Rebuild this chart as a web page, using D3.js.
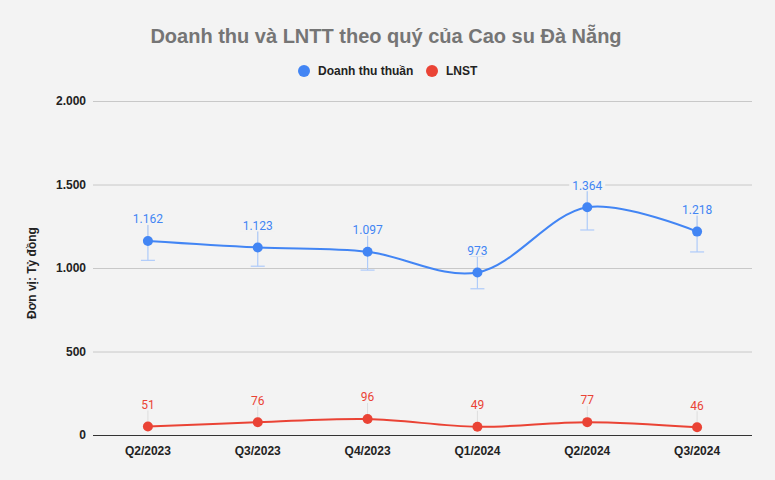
<!DOCTYPE html>
<html>
<head>
<meta charset="utf-8">
<script src="https://cdn.jsdelivr.net/npm/d3@7"></script>
<style>
  body { margin: 0; background: #f3f3f3; }
  text { font-family: "Liberation Sans", Arial, sans-serif; }
</style>
</head>
<body>
<div id="chart"></div>
<script>
const quarters = ["Q2/2023", "Q3/2023", "Q4/2023", "Q1/2024", "Q2/2024", "Q3/2024"]
const revenue = [1162, 1123, 1097, 973, 1364, 1218]
const profit = [51, 76, 96, 49, 77, 46]
const yTicks = [0, 500, 1000, 1500, 2000]

const W = 775, H = 480
const M = { left: 93, right: 23, top: 101, bottom: 45 }

const svg = d3.select("#chart").append("svg")
    .attr("width", W)
    .attr("height", H)

svg.append("rect")
    .attr("width", W)
    .attr("height", H)
    .attr("fill", "#f3f3f3")

const x = d3.scaleBand()
    .domain(quarters)
    .range([M.left, W - M.right])

const y = d3.scaleLinear()
    .domain([0, 2000])
    .range([H - M.bottom, M.top])

const fmt = v => d3.format(",")(v).replace(/,/g, ".")
const cx = q => x(q) + x.bandwidth() / 2

// title
svg.append("text")
    .attr("x", 386)
    .attr("y", 43)
    .attr("text-anchor", "middle")
    .attr("fill", "#757575")
    .style("font-size", "20px")
    .style("font-weight", "bold")
    .text("Doanh thu và LNTT theo quý của Cao su Đà Nẵng")

// legend
const legend = [
    { name: "Doanh thu thuần", color: "#4285f4", x: 304 },
    { name: "LNST", color: "#ea4335", x: 432 }
]
legend.forEach(d => {
    svg.append("circle")
        .attr("cx", d.x)
        .attr("cy", 71)
        .attr("r", 6)
        .attr("fill", d.color)
    svg.append("text")
        .attr("x", d.x + 14)
        .attr("y", 75)
        .attr("fill", "#222")
        .style("font-size", "12px")
        .style("font-weight", "bold")
        .text(d.name)
})

// grid
const yAxis = svg.append("g")
    .attr("transform", `translate(${M.left},0)`)
    .call(d3.axisLeft(y).tickValues(yTicks).tickSize(-(W - M.left - M.right)).tickFormat(fmt))
yAxis.select(".domain").remove()
yAxis.selectAll(".tick line")
    .attr("stroke", d => d === 0 ? "#333" : "#c8c8c8")
yAxis.selectAll(".tick text")
    .attr("x", -7)
    .attr("fill", "#222")
    .style("font-size", "12px")
    .style("font-weight", "bold")
    .style("font-family", "Liberation Sans, Arial, sans-serif")

svg.append("text")
    .attr("transform", `translate(36,${(M.top + H - M.bottom) / 2 + 5}) rotate(-90)`)
    .attr("text-anchor", "middle")
    .attr("fill", "#222")
    .style("font-size", "12px")
    .style("font-weight", "bold")
    .text("Đơn vị: Tỷ đồng")

// x axis labels
const xAxis = svg.append("g")
    .attr("transform", `translate(0,${H - M.bottom})`)
    .call(d3.axisBottom(x).tickSize(0).tickPadding(11))
xAxis.select(".domain").remove()
xAxis.selectAll(".tick text")
    .attr("fill", "#222")
    .style("font-size", "12px")
    .style("font-weight", "bold")
    .style("font-family", "Liberation Sans, Arial, sans-serif")

const line = d3.line()
    .x((d, i) => cx(quarters[i]))
    .y(d => y(d))
    .curve(d3.curveCatmullRom.alpha(0.5))

function drawSeries(values, color, whiskerColor, withErr) {
    const g = svg.append("g")

    // leader lines up to labels
    g.selectAll(".lead")
        .data(values)
        .join("line")
        .attr("x1", (d, i) => cx(quarters[i]))
        .attr("x2", (d, i) => cx(quarters[i]))
        .attr("y1", d => y(d))
        .attr("y2", d => y(d) - 17)
        .attr("stroke", "#ddd")
        .attr("stroke-width", 1)

    if (withErr) {
        values.forEach((d, i) => {
            const px = cx(quarters[i])
            const lo = y(d * 0.9), hi = y(d * 1.1)
            g.append("line")
                .attr("x1", px).attr("x2", px)
                .attr("y1", lo).attr("y2", hi)
                .attr("stroke", whiskerColor)
                .attr("stroke-width", 1.2)
            ;[lo, hi].forEach(yy => {
                g.append("line")
                    .attr("x1", px - 7).attr("x2", px + 7)
                    .attr("y1", yy).attr("y2", yy)
                    .attr("stroke", whiskerColor)
                    .attr("stroke-width", 1.2)
            })
        })
    }

    g.append("path")
        .datum(values)
        .attr("d", line)
        .attr("fill", "none")
        .attr("stroke", color)
        .attr("stroke-width", 2)

    g.selectAll(".pt")
        .data(values)
        .join("circle")
        .attr("cx", (d, i) => cx(quarters[i]))
        .attr("cy", d => y(d))
        .attr("r", 5)
        .attr("fill", color)

    const labels = g.selectAll(".lbl")
        .data(values)
        .join("g")
        .attr("transform", (d, i) => `translate(${cx(quarters[i])},${y(d) - 22})`)
    labels.append("rect")
        .attr("x", d => -fmt(d).length * 3.6)
        .attr("y", -7)
        .attr("width", d => fmt(d).length * 7.2)
        .attr("height", 13)
        .attr("fill", "#f3f3f3")
    labels.append("text")
        .attr("text-anchor", "middle")
        .attr("dy", "0.36em")
        .attr("fill", color)
        .style("font-size", "12px")
        .style("font-family", "Roboto, sans-serif")
        .text(d => fmt(d))
}

drawSeries(revenue, "#4285f4", "#aecbfa", true)
drawSeries(profit, "#ea4335", "#f6aea9", false)
</script>
</body>
</html>
